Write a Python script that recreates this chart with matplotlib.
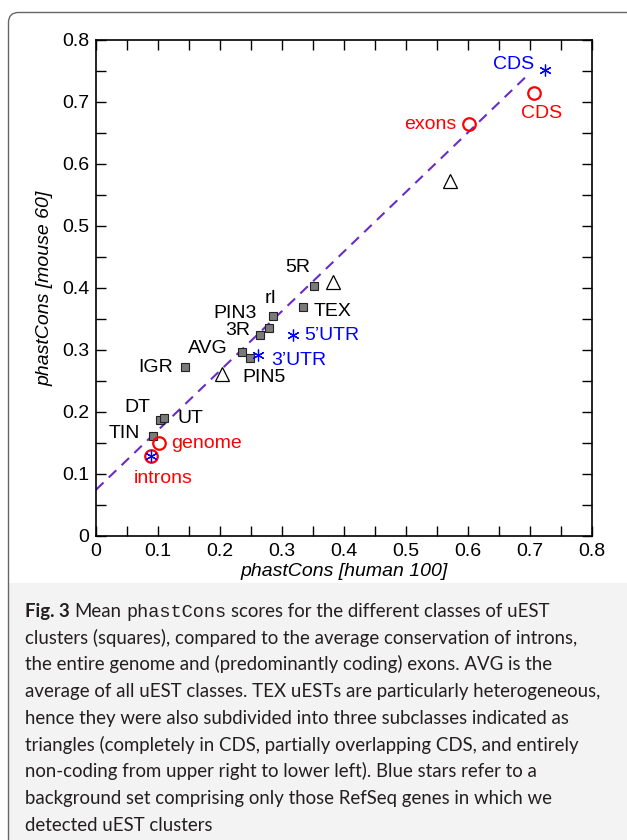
import numpy as np
import matplotlib
matplotlib.use("Agg")
import matplotlib.pyplot as plt
from matplotlib.patches import FancyBboxPatch, Rectangle
from matplotlib.transforms import IdentityTransform

# uEST classes (squares)
sq_names = ['5R', 'TEX', 'rI', 'PIN3', '3R', 'AVG', 'PIN5', 'IGR', 'DT', 'UT', 'TIN']
sq_x = [0.351, 0.334, 0.285, 0.279, 0.264, 0.236, 0.249, 0.143, 0.104, 0.109, 0.092]
sq_y = [0.403, 0.370, 0.355, 0.335, 0.325, 0.297, 0.287, 0.272, 0.187, 0.191, 0.161]

# TEX subclasses (triangles)
tri_x = [0.571, 0.382, 0.203]
tri_y = [0.572, 0.409, 0.262]

# introns / genome / exons / CDS (red circles)
circ_names = ['CDS', 'exons', 'genome', 'introns']
circ_x = [0.707, 0.602, 0.101, 0.088]
circ_y = [0.714, 0.665, 0.150, 0.129]

# RefSeq background set (blue stars)
star_names = ['CDS', "5'UTR", "3'UTR", 'introns']
star_x = [0.724, 0.317, 0.261, 0.088]
star_y = [0.751, 0.324, 0.292, 0.129]

# dashed fit line
fit_x = [0.0, 0.700]
fit_y = [0.0746, 0.747]

# labels: text, x, y, colour
lab_text = ['CDS', 'CDS', 'exons', '5R', 'rI', 'TEX', 'PIN3', '3R', '5\u2019UTR', 'AVG',
            '3\u2019UTR', 'IGR', 'PIN5', 'DT', 'UT', 'TIN', 'genome', 'introns']
lab_x = [0.673, 0.719, 0.539, 0.326, 0.282, 0.381, 0.225, 0.228, 0.381, 0.180,
         0.327, 0.096, 0.271, 0.067, 0.152, 0.045, 0.178, 0.108]
lab_y = [0.761, 0.681, 0.663, 0.433, 0.383, 0.362, 0.359, 0.331, 0.323, 0.302,
         0.283, 0.272, 0.255, 0.208, 0.189, 0.165, 0.149, 0.093]
lab_col = ['blue', 'red', 'red', 'k', 'k', 'k', 'k', 'k', 'blue', 'k',
           'blue', 'k', 'k', 'k', 'k', 'k', 'red', 'red']

ticks = [0, 0.1, 0.2, 0.3, 0.4, 0.5, 0.6, 0.7, 0.8]
tick_labels = ['0', '0.1', '0.2', '0.3', '0.4', '0.5', '0.6', '0.7', '0.8']

caption = [
    "clusters (squares), compared to the average conservation of introns,",
    "the entire genome and (predominantly coding) exons. AVG is the",
    "average of all uEST classes. TEX uESTs are particularly heterogeneous,",
    "hence they were also subdivided into three subclasses indicated as",
    "triangles (completely in CDS, partially overlapping CDS, and entirely",
    "non-coding from upper right to lower left). Blue stars refer to a",
    "background set comprising only those RefSeq genes in which we",
    "detected uEST clusters",
]

W, H = 627, 840
fig = plt.figure(figsize=(W / 100, H / 100), dpi=100)
fig.patch.set_facecolor('white')

# frame and caption background (pixel coords)
fig.patches.append(Rectangle((9, 0), W - 9, H - 583, transform=IdentityTransform(),
                             facecolor='#f3f3f3', edgecolor='none', zorder=0))
fig.patches.append(FancyBboxPatch((8.5, -30), W + 30, H - 12.5 + 30, transform=IdentityTransform(),
                                  boxstyle='round,pad=0,rounding_size=10',
                                  facecolor='none', edgecolor='#666666', lw=1.0, zorder=1))

ax = fig.add_axes([96 / W, 1 - 536 / H, 496 / W, 496 / H])
ax.set_xlim(0, 0.8)
ax.set_ylim(0, 0.8)

pfont = 'Liberation Sans'
fs = 14
ax.plot(fit_x, fit_y, ls=(0, (5, 3.5)), color='#6a2cc8', lw=1.5, zorder=2)
ax.plot(sq_x, sq_y, 's', ms=6, mfc='#7a7a7a', mec='#222222', mew=0.8, ls='none', zorder=3)
ax.plot(tri_x, tri_y, '^', ms=10, mfc='none', mec='k', mew=0.9, ls='none', zorder=3)
ax.plot(circ_x, circ_y, 'o', ms=9, mfc='none', mec='red', mew=1.6, ls='none', zorder=3)
ax.plot(star_x, star_y, marker=(6, 2, 0), ms=8.5, color='blue', mew=0.9, ls='none', zorder=4)

for t, x, y, c in zip(lab_text, lab_x, lab_y, lab_col):
    ax.text(x, y, t, color=c, ha='center', va='center', fontsize=fs, family=pfont)

ax.set_xticks(ticks)
ax.set_yticks(ticks)
ax.set_xticklabels(tick_labels, family=pfont, fontsize=fs)
ax.set_yticklabels(tick_labels, family=pfont, fontsize=fs)
ax.set_xticks(np.arange(0.05, 0.8, 0.1), minor=True)
ax.set_yticks(np.arange(0.05, 0.8, 0.1), minor=True)
ax.tick_params(which='both', direction='in', top=True, right=True, length=7, width=1)
ax.tick_params(axis='x', pad=5)
ax.tick_params(axis='y', pad=5)
for s in ax.spines.values():
    s.set_linewidth(1.2)

ax.set_xlabel('phastCons [human 100]', style='italic', family=pfont, fontsize=fs, va='center')
ax.set_ylabel('phastCons [mouse 60]', style='italic', family=pfont, fontsize=fs, va='center')
ax.xaxis.set_label_coords(0.5, (536 - 572) / 496)
ax.yaxis.set_label_coords((45 - 96) / 496, 0.5)

# caption
cfont = 'Lato'
ccol = '#231f20'
r = fig.canvas.get_renderer()


def px_width(t):
    return t.get_window_extent(r).width


# pick the size so that the widest line spans about 573 px like the original
probe = fig.text(0, 0, caption[2], fontsize=12, family=cfont)
csize = 12 * 573 / px_width(probe)
probe.remove()

x0, y0, step = 25, H - 617, 26.7
pieces = [('Fig. 3', dict(family=cfont, weight='bold')),
          ('Mean', dict(family=cfont)),
          ('phastCons', dict(family='Liberation Mono')),
          ('scores for the different classes of uEST', dict(family=cfont))]
probe = fig.text(0, 0, 'a a', fontsize=csize, family=cfont)
probe2 = fig.text(0, 0, 'aa', fontsize=csize, family=cfont)
space = px_width(probe) - px_width(probe2)
probe.remove()
probe2.remove()
x = x0
for s, kw in pieces:
    t = fig.text(x / W, y0 / H, s, fontsize=csize, va='baseline', ha='left', color=ccol, **kw)
    x += px_width(t) + space
for i, line in enumerate(caption):
    fig.text(x0 / W, (y0 - step * (i + 1)) / H, line, fontsize=csize, va='baseline',
             ha='left', family=cfont, color=ccol)

fig.savefig('out.png', dpi=100)
